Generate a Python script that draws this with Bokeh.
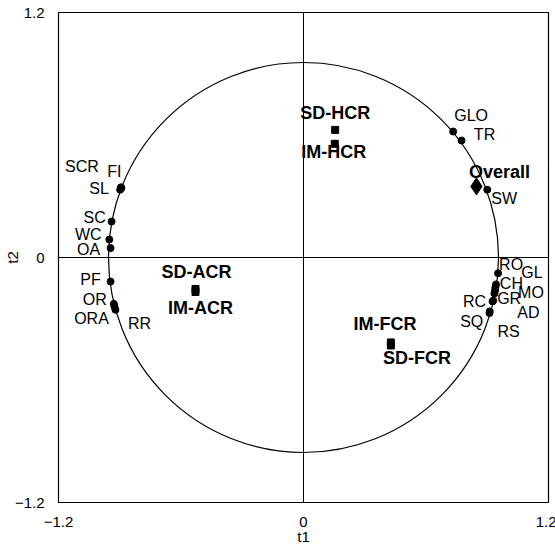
from bokeh.plotting import figure
from bokeh.models import ColumnDataSource, FixedTicker, Range1d, CustomJSTickFormatter
from bokeh.embed import file_html
from bokeh.resources import INLINE
from bokeh.core.properties import value

# ---- data: variables (circle of correlations) ----
var_names = ["SCR", "FI", "SL", "SC", "WC", "OA", "PF", "OR", "RR", "ORA",
             "GLO", "TR", "SW",
             "RO", "GL", "CH", "MO", "AD", "GR", "RC", "SQ", "RS"]
var_t1 = [-0.894, -0.892, -0.898, -0.940, -0.951, -0.945, -0.945, -0.929, -0.926, -0.921,
          0.733, 0.774, 0.900,
          0.953, 0.943, 0.940, 0.938, 0.935, 0.929, 0.926, 0.912, 0.911]
var_t2 = [0.344, 0.340, 0.332, 0.176, 0.088, 0.046, -0.118, -0.227, -0.240, -0.256,
          0.617, 0.573, 0.332,
          -0.077, -0.132, -0.147, -0.162, -0.176, -0.211, -0.215, -0.264, -0.272]

# ---- data: observations / groups ----
obs_names = ["SD-HCR", "IM-HCR", "SD-ACR", "IM-ACR", "IM-FCR", "SD-FCR"]
obs_t1 = [0.155, 0.153, -0.529, -0.529, 0.428, 0.428]
obs_t2 = [0.625, 0.557, -0.154, -0.169, -0.416, -0.431]

overall_name = ["Overall"]
overall_t1 = [0.847]
overall_t2 = [0.348]

ticks = [-1.2, 0, 1.2]
circle_radius = 0.955

# ---- label offsets in screen pixels (style only) ----
var_dx = [-39, -7, -21, -17, -21, -22, -20, -19, 25, -24,
          18, 23, 17,
          13, 36, 16, 36, 34, 16, -18, -18, 19]
var_dy = [-21, -17, -1, -4, -5, 1, -2, -4, 17, 9,
          -16, -6, 9,
          -9, -12, -4, 2, 19, -2, 0, 10, 18]
obs_dx = [0, -1, 1, 5, -6, 26]
obs_dy = [-17, 8, -17, 16, -18, 13]
overall_dx = [23]
overall_dy = [-14]

FONT = "Liberation Sans"

p = figure(frame_width=490, frame_height=490, output_backend="svg", toolbar_location=None,
           x_range=Range1d(-1.2, 1.2), y_range=Range1d(-1.2, 1.2),
           min_border_left=57, min_border_right=8, min_border_top=12, min_border_bottom=48)
p.grid.visible = False
p.outline_line_color = "black"
p.outline_line_width = 1.2
p.outline_line_alpha = 1

fmt = CustomJSTickFormatter(code="return tick == 0 ? '0' : (tick < 0 ? '\u2212' + Math.abs(tick).toFixed(1) : tick.toFixed(1));")
for ax in (p.xaxis[0], p.yaxis[0]):
    ax.ticker = FixedTicker(ticks=ticks)
    ax.formatter = fmt
    ax.axis_line_color = None
    ax.major_tick_line_color = None
    ax.minor_tick_line_color = None
    ax.major_label_text_font = FONT
    ax.major_label_text_font_size = "15px"
    ax.major_label_text_color = "black"
    ax.major_label_standoff = 8
    ax.axis_label_text_font = FONT
    ax.axis_label_text_font_size = "15px"
    ax.axis_label_text_font_style = "normal"
    ax.axis_label_text_color = "black"
p.xaxis.axis_label = "t1"
p.xaxis.axis_label_standoff = -2
p.yaxis.axis_label = "t2"
p.yaxis.axis_label_standoff = -9

# cross lines through origin
p.segment(x0=[-1.2, 0], y0=[0, -1.2], x1=[1.2, 0], y1=[0, 1.2], line_color="black", line_width=1)

# correlation circle
p.ellipse(x=0, y=0, width=2 * circle_radius, height=2 * circle_radius,
          fill_color=None, line_color="black", line_width=1.2)

vsrc = ColumnDataSource(dict(x=var_t1, y=var_t2, name=var_names, dx=var_dx, dy=var_dy))
osrc = ColumnDataSource(dict(x=obs_t1, y=obs_t2, name=obs_names, dx=obs_dx, dy=obs_dy))
asrc = ColumnDataSource(dict(x=overall_t1, y=overall_t2, name=overall_name, dx=overall_dx, dy=overall_dy))

p.scatter("x", "y", source=vsrc, marker="circle", size=7, fill_color="black", line_color="black")
p.scatter("x", "y", source=osrc, marker="square", size=7, fill_color="black", line_color="black")
p.scatter("x", "y", source=asrc, marker="diamond", size=17, fill_color="black", line_color="black")

p.text("x", "y", text="name", source=vsrc, x_offset="dx", y_offset="dy",
       text_font=value(FONT), text_font_size="16px", text_align="center",
       text_baseline="middle", text_color="black")
p.text("x", "y", text="name", source=osrc, x_offset="dx", y_offset="dy",
       text_font=value(FONT), text_font_size="18px", text_font_style="bold",
       text_align="center", text_baseline="middle", text_color="black")
p.text("x", "y", text="name", source=asrc, x_offset="dx", y_offset="dy",
       text_font=value(FONT), text_font_size="18px", text_font_style="bold",
       text_align="center", text_baseline="middle", text_color="black")

open("out.html", "w").write(file_html(p, INLINE))
